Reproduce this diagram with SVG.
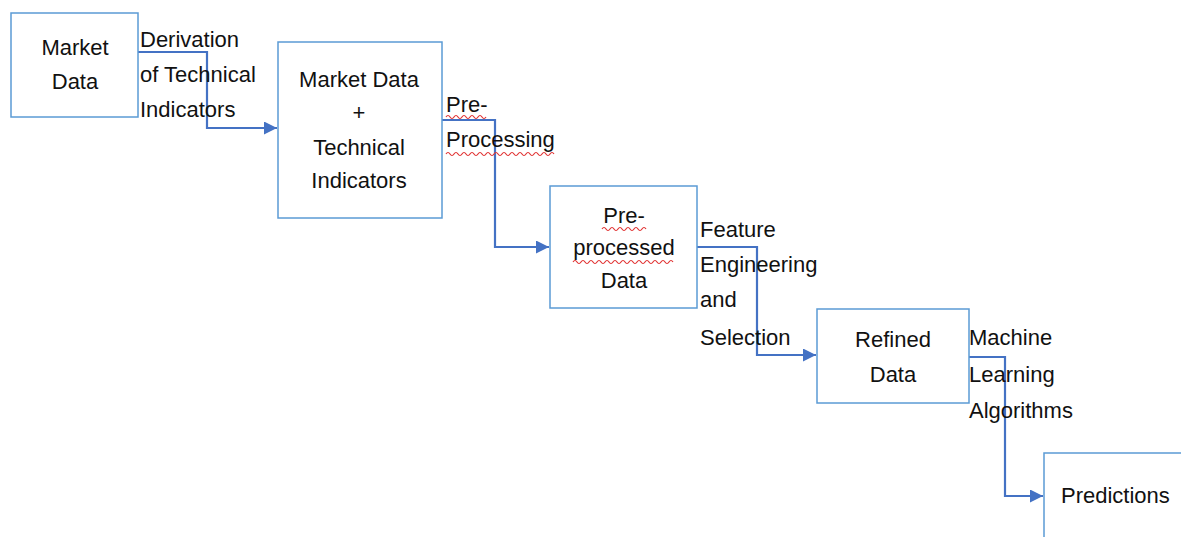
<svg xmlns="http://www.w3.org/2000/svg" width="1181" height="537" viewBox="0 0 1181 537">
<style>
.box{fill:#fff;stroke:#5b9bd5;stroke-width:1.5}
.t{font-family:"Liberation Sans",Arial,sans-serif;font-size:22px;fill:#111}
.c{text-anchor:middle}
.ln{fill:none;stroke:#4472c4;stroke-width:2.2}
.sq{fill:none;stroke:#e03030;stroke-width:1.2}
</style>
<defs>
<marker id="ah" viewBox="0 0 10 10" refX="10" refY="5" markerWidth="14" markerHeight="13" markerUnits="userSpaceOnUse" orient="auto">
<path d="M0,0 L10,5 L0,10 z" fill="#4472c4"/>
</marker>
</defs>
<rect width="1181" height="537" fill="#fff"/>
<g id="connectors">
<path class="ln" d="M138,52 H207 V128 H277" marker-end="url(#ah)"/>
<path class="ln" d="M442,120 H495 V247 H549" marker-end="url(#ah)"/>
<path class="ln" d="M697,247 H757 V355 H816" marker-end="url(#ah)"/>
<path class="ln" d="M969,357 H1005 V496 H1043" marker-end="url(#ah)"/>
</g>
<g id="node-market-data">
<rect class="box" x="11" y="13" width="127" height="104"/>
<text class="t c" x="75" y="55">Market</text>
<text class="t c" x="75" y="89">Data</text>
</g>
<g id="node-market-tech">
<rect class="box" x="278" y="42" width="164" height="176"/>
<text class="t c" x="359" y="87">Market Data</text>
<text class="t c" x="359" y="120">+</text>
<text class="t c" x="359" y="155">Technical</text>
<text class="t c" x="359" y="188">Indicators</text>
</g>
<g id="node-preprocessed">
<rect class="box" x="550" y="186" width="147" height="122"/>
<text class="t c" x="624" y="223">Pre-</text>
<text class="t c" x="624" y="255">processed</text>
<text class="t c" x="624" y="288">Data</text>
<path class="sq" d="M602,229 q2,-3 4,0 t4,0 t4,0 t4,0 t4,0 t4,0 t4,0 t4,0 t4,0 t4,0 t4,0"/>
<path class="sq" d="M573,262 q2,-3 4,0 t4,0 t4,0 t4,0 t4,0 t4,0 t4,0 t4,0 t4,0 t4,0 t4,0 t4,0 t4,0 t4,0 t4,0 t4,0 t4,0 t4,0 t4,0 t4,0 t4,0 t4,0 t4,0 t4,0 t4,0"/>
</g>
<g id="node-refined">
<rect class="box" x="817" y="309" width="152" height="94"/>
<text class="t c" x="893" y="347">Refined</text>
<text class="t c" x="893" y="382">Data</text>
</g>
<g id="node-predictions">
<rect class="box" x="1044" y="453" width="150" height="100"/>
<text class="t" x="1061" y="503">Predictions</text>
</g>
<g id="labels">
<text class="t" x="140" y="47">Derivation</text>
<text class="t" x="140" y="82">of Technical</text>
<text class="t" x="140" y="117">Indicators</text>
<text class="t" x="446" y="112">Pre-</text>
<text class="t" x="446" y="147">Processing</text>
<path class="sq" d="M446,117 q2,-3 4,0 t4,0 t4,0 t4,0 t4,0 t4,0 t4,0 t4,0 t4,0 t4,0"/>
<path class="sq" d="M446,154 q2,-3 4,0 t4,0 t4,0 t4,0 t4,0 t4,0 t4,0 t4,0 t4,0 t4,0 t4,0 t4,0 t4,0 t4,0 t4,0 t4,0 t4,0 t4,0 t4,0 t4,0 t4,0 t4,0 t4,0 t4,0 t4,0 t4,0 t4,0"/>
<text class="t" x="700" y="237">Feature</text>
<text class="t" x="700" y="272">Engineering</text>
<text class="t" x="700" y="307">and</text>
<text class="t" x="700" y="345">Selection</text>
<text class="t" x="969" y="345">Machine</text>
<text class="t" x="969" y="382">Learning</text>
<text class="t" x="969" y="418">Algorithms</text>
</g>
</svg>
